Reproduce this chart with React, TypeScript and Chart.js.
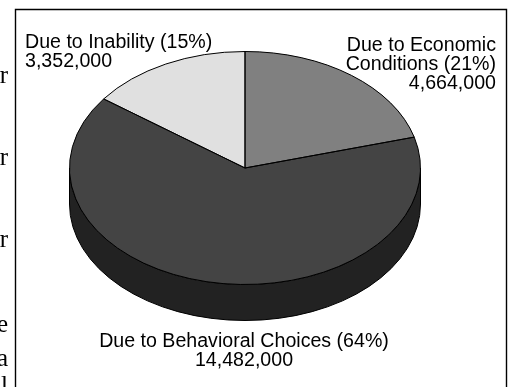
import React, { useEffect, useRef } from "react";
import { Chart, registerables } from "chart.js";

Chart.register(...registerables);

// Number of people in each group, clockwise from twelve o'clock.
const categories = ["Due to Economic Conditions", "Due to Behavioral Choices", "Due to Inability"];
const people = [4664000, 14482000, 3352000];
const topColors = ["#808080", "#444444", "#e0e0e0"];
const sideColors = ["#404040", "#222222", "#707070"];

const SANS = "19.6px 'Liberation Sans', Arial, sans-serif";
const SERIF = "25px 'Liberation Serif', 'Times New Roman', serif";

// Callout text: [string, x, baseline y, alignment].
const calloutLines: [string, number, number, CanvasTextAlign][] = [
  ["Due to Inability (15%)", 25, 48, "left"],
  ["3,352,000", 25, 67, "left"],
  ["Due to Economic", 496, 51, "right"],
  ["Conditions (21%)", 496, 70, "right"],
  ["4,664,000", 496, 89, "right"],
  ["Due to Behavioral Choices (64%)", 244, 347, "center"],
  ["14,482,000", 244, 366, "center"],
];

// Line endings of the surrounding paragraph that run up to the frame.
const paragraphEnds: [string, number][] = [
  ["r", 83],
  ["r", 165],
  ["r", 247],
  ["e", 332],
  ["a", 366],
  ["l", 393],
];

const CENTER_Y = 168; // centre of the pie's top face
const SQUASH = 116.5 / 175.5; // tilt of the disc
const DEPTH = 36; // height of the disc's edge

const tiltedDisc = {
  id: "tiltedDisc",
  beforeDatasetsDraw(chart: Chart) {
    const { ctx } = chart;
    const arcs = chart.getDatasetMeta(0).data as any[];
    const tilt = (dy: number) => {
      const a = arcs[0];
      ctx.translate(a.x, CENTER_Y + dy);
      ctx.scale(1, SQUASH);
      ctx.translate(-a.x, -a.y);
    };
    // The visible edge is the part of each slice lying in the lower half of the disc.
    arcs.forEach((arc, i) => {
      const lo = Math.max(arc.startAngle, 0);
      const hi = Math.min(arc.endAngle, Math.PI);
      if (hi <= lo) return;
      ctx.save();
      ctx.beginPath();
      ctx.save();
      tilt(0);
      ctx.arc(arc.x, arc.y, arc.outerRadius, lo, hi);
      ctx.restore();
      ctx.save();
      tilt(DEPTH);
      ctx.arc(arc.x, arc.y, arc.outerRadius, hi, lo, true);
      ctx.restore();
      ctx.closePath();
      ctx.fillStyle = sideColors[i];
      ctx.fill();
      ctx.strokeStyle = "#000";
      ctx.lineWidth = 1;
      ctx.stroke();
      ctx.restore();
    });
    ctx.save();
    tilt(0);
  },
  afterDatasetsDraw(chart: Chart) {
    const { ctx } = chart;
    const arcs = chart.getDatasetMeta(0).data as any[];
    ctx.restore();

    // Slice outlines are stroked outside the tilt so the pen stays 1px wide.
    arcs.forEach((arc) => {
      ctx.save();
      ctx.beginPath();
      ctx.save();
      ctx.translate(arc.x, CENTER_Y);
      ctx.scale(1, SQUASH);
      ctx.moveTo(0, 0);
      ctx.arc(0, 0, arc.outerRadius, arc.startAngle, arc.endAngle);
      ctx.closePath();
      ctx.restore();
      ctx.strokeStyle = "#000";
      ctx.lineWidth = 1;
      ctx.stroke();
      ctx.restore();
    });

    // Frame: open at the bottom, where it leaves the page.
    ctx.save();
    ctx.strokeStyle = "#000";
    ctx.lineWidth = 1.4;
    ctx.beginPath();
    ctx.moveTo(15.5, 387);
    ctx.lineTo(15.5, 9.5);
    ctx.lineTo(506.5, 9.5);
    ctx.lineTo(506.5, 387);
    ctx.stroke();

    ctx.fillStyle = "#000";
    ctx.textBaseline = "alphabetic";
    ctx.font = SANS;
    calloutLines.forEach(([text, x, y, align]) => {
      ctx.textAlign = align;
      ctx.fillText(text, x, y);
    });
    ctx.font = SERIF;
    ctx.textAlign = "right";
    paragraphEnds.forEach(([text, y]) => ctx.fillText(text, 8, y));
    ctx.restore();
  },
};

export default function App() {
  const ref = useRef<HTMLCanvasElement>(null);

  useEffect(() => {
    const chart = new Chart(ref.current!, {
      type: "pie",
      data: {
        labels: categories,
        datasets: [{ data: people, backgroundColor: topColors, borderWidth: 0 }],
      },
      options: {
        animation: false,
        responsive: false,
        layout: { padding: { left: 69.5, right: 89.5, top: 18, bottom: 18 } },
        plugins: { legend: { display: false }, tooltip: { enabled: false } },
      },
      plugins: [tiltedDisc],
    });
    return () => chart.destroy();
  }, []);

  return (
    <div style={{ position: "fixed", left: 0, top: 0, width: 510, height: 387, background: "#fff" }}>
      <canvas ref={ref} width={510} height={387} style={{ display: "block" }} />
    </div>
  );
}
